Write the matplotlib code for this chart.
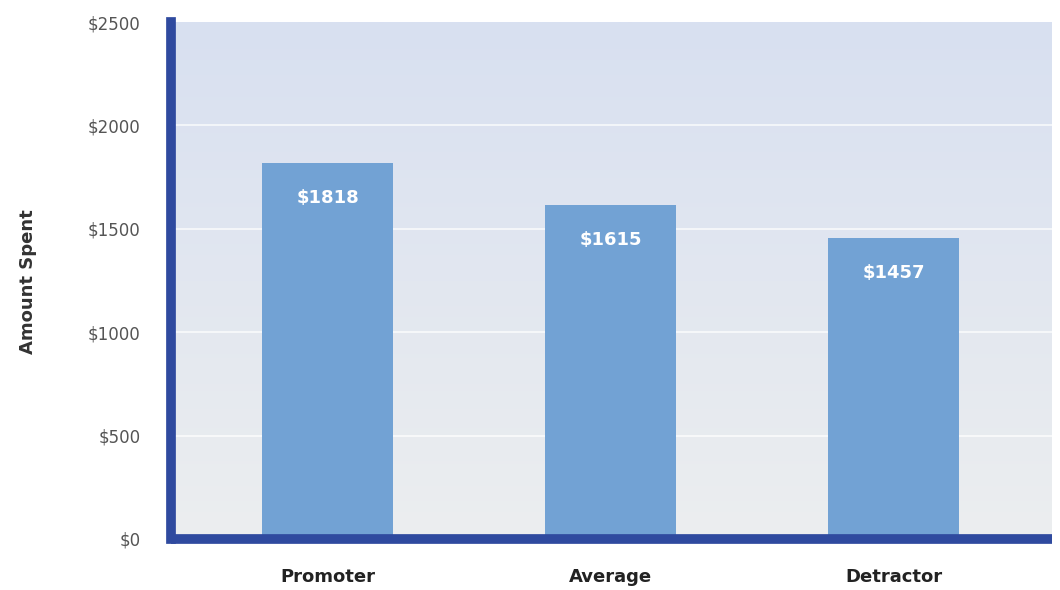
import numpy as np
import matplotlib
matplotlib.use("Agg")
import matplotlib.pyplot as plt
from matplotlib.colors import LinearSegmentedColormap

categories = ["Promoter", "Average", "Detractor"]
amounts = [1818, 1615, 1457]
tick_values = [0, 500, 1000, 1500, 2000, 2500]
tick_labels = ["$0", "$500", "$1000", "$1500", "$2000", "$2500"]

fig = plt.figure(figsize=(10.6, 5.9), dpi=100)
ax = fig.add_axes([171 / 1060, 1 - 539 / 590, (1052 - 171) / 1060, (539 - 22) / 590])

# soft vertical gradient behind the bars
grad = LinearSegmentedColormap.from_list("bg", ["#eceeef", "#d8e0f1"])
ax.imshow(np.linspace(0, 1, 256).reshape(-1, 1), cmap=grad, origin="lower",
          aspect="auto", extent=[0, 1, 0, 1], transform=ax.transAxes, zorder=0)

x = np.arange(len(categories))
bars = ax.bar(x, amounts, width=0.463, color="#72a2d4", zorder=2)

for rect, val in zip(bars, amounts):
    ax.text(rect.get_x() + rect.get_width() / 2, val - 170, f"${val}",
            ha="center", va="center", color="white", fontsize=13,
            fontweight="bold", zorder=3)

ax.set_xlim(-0.555, 2.56)
ax.set_ylim(0, 2500)
ax.set_yticks(tick_values)
ax.set_yticklabels(tick_labels, color="#555555", fontsize=12)
ax.set_xticks(x)
ax.set_xticklabels(categories, fontsize=13, fontweight="bold", color="#222222")
ax.tick_params(axis="y", length=0, pad=22)
ax.tick_params(axis="x", length=0, pad=21)

for v in tick_values[1:-1]:
    ax.axhline(v, color="white", lw=1.2, alpha=0.8, zorder=1)

for side in ("top", "right"):
    ax.spines[side].set_visible(False)
for side in ("left", "bottom"):
    sp = ax.spines[side]
    sp.set_color("#2f4a9f")
    sp.set_linewidth(7)
    sp.set_zorder(4)
ax.spines["left"].set_capstyle("projecting")
ax.spines["bottom"].set_capstyle("butt")

fig.text(28 / 1060, 1 - 282 / 590, "Amount Spent", rotation=90, ha="center",
         va="center", fontsize=13, fontweight="bold", color="#333333")

fig.savefig("out.png", dpi=100)
